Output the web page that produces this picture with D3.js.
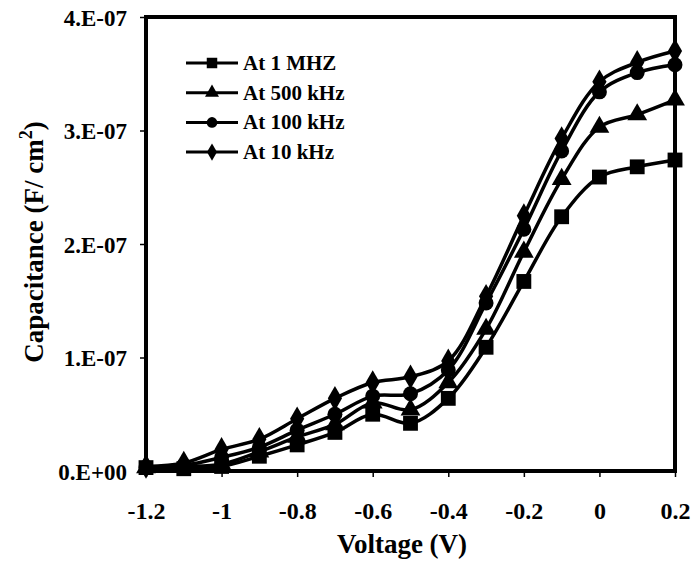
<!DOCTYPE html>
<html>
<head>
<meta charset="utf-8">
<script src="https://cdn.jsdelivr.net/npm/d3@7"></script>
<style>
  body { margin: 0; background: #fff; }
  text { font-family: "Liberation Serif", "Times New Roman", serif; font-weight: bold; fill: #000; }
</style>
</head>
<body>
<svg id="chart" width="693" height="566"></svg>
<script>
// Data (capacitance in units of 1e-8 F/cm2)
const voltage = [-1.2, -1.1, -1, -0.9, -0.8, -0.7, -0.6, -0.5, -0.4, -0.3, -0.2, -0.1, 0, 0.1, 0.2];
const cap1MHz = [0.3, 0.2, 0.4, 1.3, 2.3, 3.4, 5.0, 4.2, 6.4, 10.9, 16.7, 22.4, 25.9, 26.8, 27.4];
const cap500kHz = [0.3, 0.4, 0.6, 1.7, 3.0, 4.1, 6.0, 5.4, 7.8, 12.5, 19.3, 25.7, 30.3, 31.4, 32.7];
const cap100kHz = [0.3, 0.5, 1.2, 2.1, 3.6, 5.0, 6.6, 6.8, 8.9, 14.8, 21.3, 28.2, 33.4, 35.1, 35.8];
const cap10kHz = [0.4, 0.7, 1.9, 2.8, 4.6, 6.4, 7.8, 8.3, 9.7, 15.4, 22.5, 29.3, 34.3, 36.0, 37.0];
const seriesNames = ['At 1 MHZ', 'At 500 kHz', 'At 100 kHz', 'At 10 kHz'];
const xTicks = [-1.2, -1, -0.8, -0.6, -0.4, -0.2, 0, 0.2];
const yTicks = [0, 1e-7, 2e-7, 3e-7, 4e-7];
const yTickLabels = ['0.E+00', '1.E-07', '2.E-07', '3.E-07', '4.E-07'];

const series = [cap1MHz, cap500kHz, cap100kHz, cap10kHz].map((vals, i) => ({
    name: seriesNames[i],
    symbol: [d3.symbolSquare, d3.symbolTriangle, d3.symbolCircle, d3.symbolDiamond][i],
    size: [220, 170, 175, 175][i],
    values: vals.map((v, j) => ({ x: voltage[j], y: v * 1e-8 }))
}));

const margin = { top: 17, right: 18, bottom: 95, left: 146 };
const width = 693 - margin.left - margin.right;
const height = 566 - margin.top - margin.bottom;

const svg = d3.select('#chart')
    .append('g')
    .attr('transform', `translate(${margin.left},${margin.top})`);

const xScale = d3.scaleLinear().domain([-1.2, 0.2]).range([0, width]);
const yScale = d3.scaleLinear().domain([0, 4e-7]).range([height, 0]);

// x-axis
const xAxis = svg.append('g')
    .attr('transform', `translate(0,${height})`)
    .call(d3.axisBottom(xScale).tickValues(xTicks).tickSize(6).tickPadding(25).tickFormat(d => String(d)));
xAxis.select('.domain').remove();
xAxis.selectAll('line').attr('stroke', '#000').attr('stroke-width', 1.5);
xAxis.selectAll('text').style('font-size', '24px');

// y-axis
const yAxis = svg.append('g')
    .call(d3.axisLeft(yScale).tickValues(yTicks).tickSize(6).tickPadding(13).tickFormat((d, i) => yTickLabels[i]));
yAxis.select('.domain').remove();
yAxis.selectAll('line').attr('stroke', '#000').attr('stroke-width', 1.5);
yAxis.selectAll('text').style('font-size', '23px').attr('dy', '0.36em');

// frame
svg.append('rect')
    .attr('x', 0).attr('y', 0)
    .attr('width', width).attr('height', height)
    .attr('fill', 'none').attr('stroke', '#000').attr('stroke-width', 4);

// axis labels
svg.append('text')
    .attr('x', 256)
    .attr('y', height + 82)
    .attr('text-anchor', 'middle')
    .style('font-size', '27px')
    .text('Voltage (V)');

const yLabel = svg.append('text')
    .attr('transform', 'rotate(-90)')
    .attr('x', -225)
    .attr('y', -103)
    .attr('text-anchor', 'middle')
    .style('font-size', '27px');
yLabel.append('tspan').text('Capacitance (F/ cm');
yLabel.append('tspan').attr('dy', -11).style('font-size', '18px').text('2');
yLabel.append('tspan').attr('dy', 11).text(')');

// lines
const line = d3.line()
    .x(d => xScale(d.x))
    .y(d => yScale(d.y))
    .curve(d3.curveCatmullRom.alpha(0.5));

series.forEach(s => {
    svg.append('path')
        .datum(s.values)
        .attr('fill', 'none')
        .attr('stroke', '#000')
        .attr('stroke-width', 3.5)
        .attr('d', line);

    svg.selectAll(null)
        .data(s.values)
        .enter().append('path')
        .attr('transform', d => `translate(${xScale(d.x)},${yScale(d.y)})`)
        .attr('d', d3.symbol().type(s.symbol).size(s.size))
        .attr('fill', '#000');
});

// legend
const legend = svg.append('g')
    .attr('transform', 'translate(40,46)');

series.forEach((s, i) => {
    const g = legend.append('g').attr('transform', `translate(0,${i * 29.7})`);
    g.append('line')
        .attr('x1', 0).attr('x2', 52)
        .attr('y1', 0).attr('y2', 0)
        .attr('stroke', '#000').attr('stroke-width', 3);
    g.append('path')
        .attr('transform', 'translate(26,0)')
        .attr('d', d3.symbol().type(s.symbol).size(s.size * 0.5))
        .attr('fill', '#000');
    g.append('text')
        .attr('x', 57)
        .attr('y', 7)
        .style('font-size', '21px')
        .text(s.name);
});
</script>
</body>
</html>
